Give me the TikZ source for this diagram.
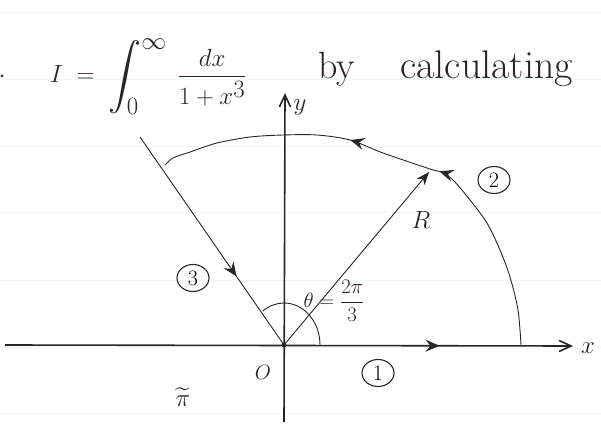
\documentclass[tikz,border=0pt]{standalone}
\usepackage{amsmath,amssymb}
\usetikzlibrary{arrows.meta,positioning,decorations.markings,shapes.geometric}

\begin{document}
\begin{tikzpicture}[x=1pt,y=1pt,
		pen/.style={draw=black!85,line width=0.9pt},
		axis/.style={draw=black!85,line width=1.6pt,-{Straight Barb[length=12pt,width=11pt]}},
		tipat/.style={postaction={decorate,decoration={markings,
				mark=at position #1 with {\arrow{Stealth[length=14pt,width=12pt,inset=5pt]}}}}},
		circnum/.style={ellipse,draw=black!85,line width=1.1pt,inner sep=0pt,
			minimum width=32pt,minimum height=27pt,font=\fontsize{22}{24}\selectfont},
		hand/.style={text=black!85,inner sep=0pt}]
		
		\useasboundingbox (0,0) rectangle (601,423);
		
		% ruled paper
		\foreach \yy in {10,76,143,210,276,343,410}
		\draw[cyan!7,line width=1pt] (0,\yy) -- (601,\yy);
		
		% heading
		\fill[black!85] (2,347) circle (1.5pt);
		\node[hand,anchor=base west] (integral) at (50,340)
		{\fontsize{33}{36}\selectfont $\displaystyle I \;=\; \int_0^\infty \;\frac{dx}{1+x^3}$};
		\node[hand,anchor=base west] (by) at (318,344)
		{\fontsize{38}{42}\selectfont by};
		\node[hand,anchor=base west] (calc) at (400,344)
		{\fontsize{40}{44}\selectfont calculating};
		
		\coordinate (O) at (284,78);
		\coordinate (xend) at (573,77);
		\coordinate (xstart) at (5,78);
		\coordinate (ytop) at (285,330);
		\coordinate (ybot) at (284,1);
		\coordinate (A) at (521,78);
		\coordinate (Rtip) at (429,251);
		\coordinate (raytop) at (140,286);
		
		% axes
		\draw[axis,tipat=0.765] (xstart) -- (xend);
		\draw[axis] (ybot) -- (ytop);
		\node[hand,font=\fontsize{38}{40}\selectfont] (xlab) at (588,75) {$x$};
		\node[hand,font=\fontsize{28}{30}\selectfont] (ylab) at (300,315) {$y$};
		
		% contour
		\draw[pen,tipat=0.41,tipat=0.605]
		plot[smooth,tension=0.5] coordinates {(A) (518,113) (510,146) (500,173)
			(487,200) (470,223) (453,243) (441,251) (430,254) (383,270) (350,283)
			(317,288) (283,288) (250,286) (217,280) (190,271) (173,265) (165,258)};
		\draw[pen,tipat=0.67] (raytop) -- (O);
		
		% radius and angle
		\draw[pen,-{Stealth[length=13pt,width=10pt,inset=4pt]}] (O) -- (Rtip);
		\draw[pen] (O) ++(36,0) arc[start angle=0,end angle=126,x radius=36,y radius=42];
		\fill[black!85] (O) circle (2.5pt);
		
		% labels
		\node[hand,font=\fontsize{34}{36}\selectfont] (Rlab) at (421,203) {$R$};
		\node[hand,font=\fontsize{22}{24}\selectfont] (theta) at (334,122)
		{$\theta=\dfrac{2\pi}{3}$};
		\node[hand,font=\fontsize{22}{24}\selectfont] (Olab) at (263,51) {$O$};
		\node[hand,font=\fontsize{26}{28}\selectfont] (pilab) at (183,26) {$\widetilde{\pi}$};
		\node[circnum] (c1) at (378,50) {1};
		\node[circnum] (c2) at (494,243) {2};
		\node[circnum] (c3) at (193,145) {3};
		
	\end{tikzpicture}
\end{document}
